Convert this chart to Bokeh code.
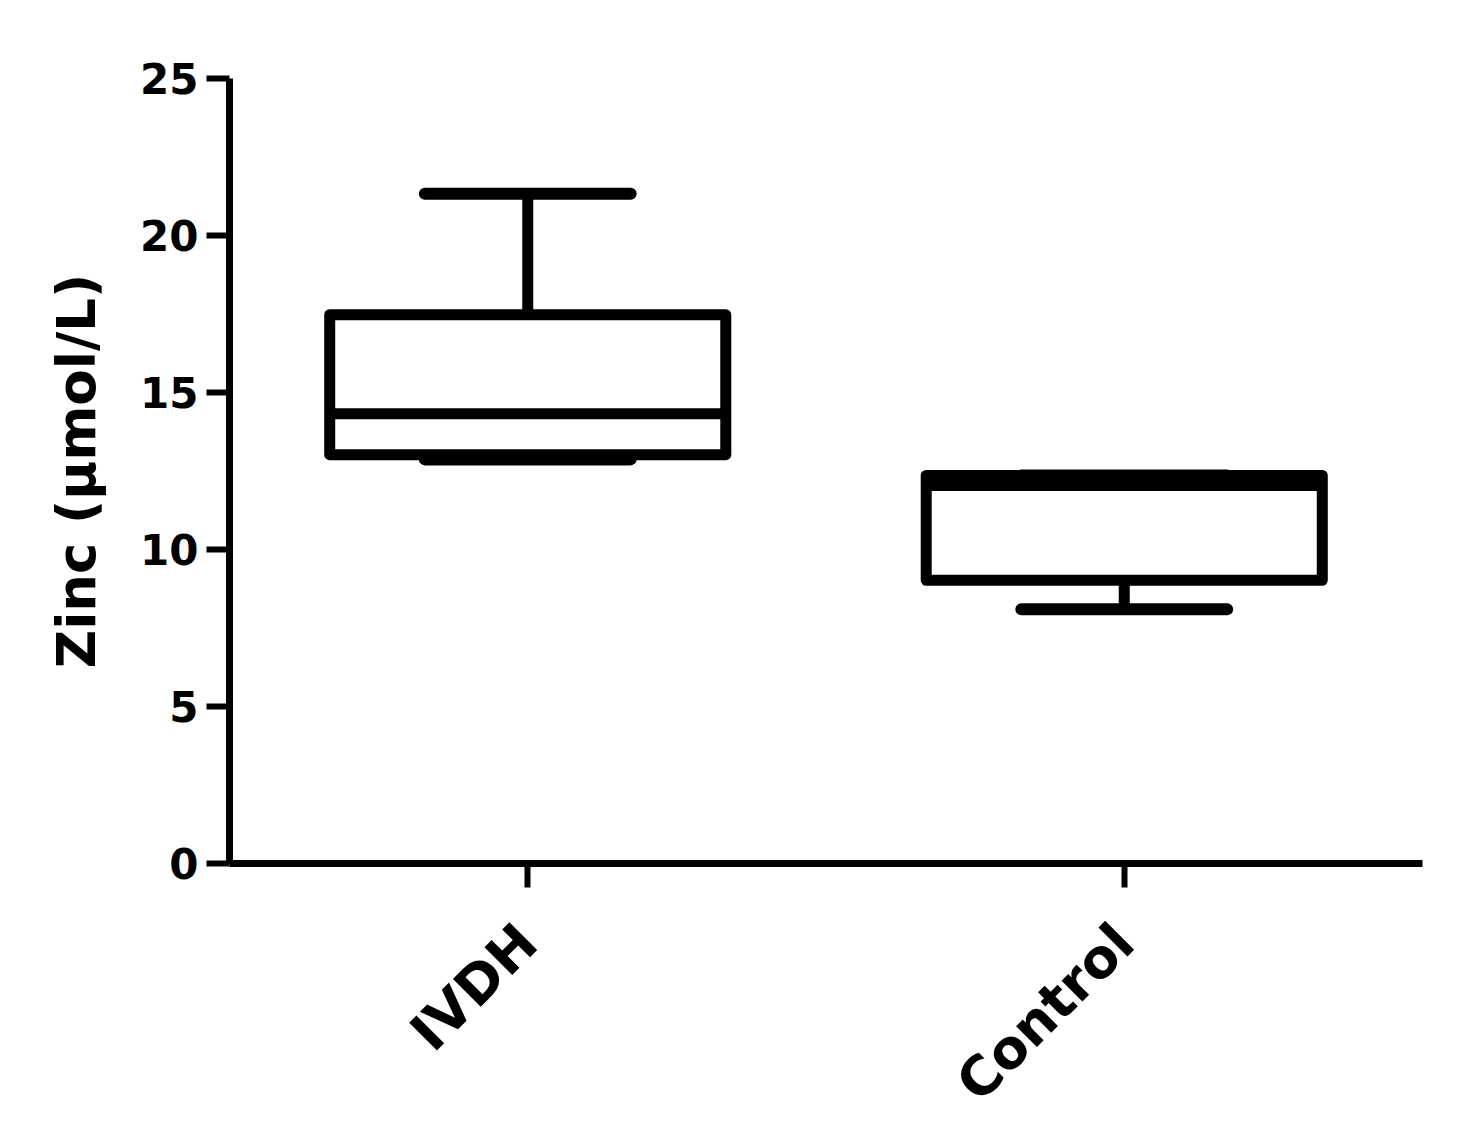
from math import pi
from bokeh.plotting import figure
from bokeh.models import FactorRange, Range1d, FixedTicker, ColumnDataSource
from bokeh.transform import dodge
from bokeh.embed import file_html
from bokeh.resources import INLINE

categories = ["IVDH", "Control"]
whisker_low = [12.87, 8.10]
q1 = [13.02, 9.02]
median = [14.32, 12.04]
q3 = [17.48, 12.36]
whisker_high = [21.33, 12.36]
y_ticks = [0, 5, 10, 15, 20, 25]

BOX_W = 0.664
CAP_W = 0.345
LW = 11
FONT = "DejaVu Sans"

src = ColumnDataSource(dict(cat=categories, lo=whisker_low, q1=q1, med=median,
                            q3=q3, hi=whisker_high))

p = figure(x_range=FactorRange(*categories, range_padding=0), y_range=Range1d(0, 25),
           width=1457, height=1138, output_backend="svg", toolbar_location=None,
           min_border_left=229, min_border_right=35, min_border_top=78, min_border_bottom=274)
p.outline_line_color = None
p.xgrid.visible = False
p.ygrid.visible = False
p.background_fill_color = "white"
p.border_fill_color = "white"

# whiskers (vertical stems)
p.segment(x0="cat", y0="q3", x1="cat", y1="hi", source=src, line_color="black", line_width=LW)
p.segment(x0="cat", y0="lo", x1="cat", y1="q1", source=src, line_color="black", line_width=LW)
# caps
p.segment(x0=dodge("cat", -CAP_W / 2, range=p.x_range), y0="hi",
          x1=dodge("cat", CAP_W / 2, range=p.x_range), y1="hi",
          source=src, line_color="black", line_width=LW + 1, line_cap="round")
p.segment(x0=dodge("cat", -CAP_W / 2, range=p.x_range), y0="lo",
          x1=dodge("cat", CAP_W / 2, range=p.x_range), y1="lo",
          source=src, line_color="black", line_width=LW + 1, line_cap="round")
# boxes
p.vbar(x="cat", width=BOX_W, bottom="q1", top="q3", source=src, fill_color="white",
       line_color="black", line_width=LW, line_join="round")
# medians
p.segment(x0=dodge("cat", -BOX_W / 2, range=p.x_range), y0="med",
          x1=dodge("cat", BOX_W / 2, range=p.x_range), y1="med",
          source=src, line_color="black", line_width=LW)

# axes styling
for ax in (p.xaxis[0], p.yaxis[0]):
    ax.axis_line_width = 7
    ax.axis_line_color = "black"
    ax.major_tick_line_width = 6
    ax.major_tick_line_color = "black"
    ax.major_tick_in = 0
    ax.minor_tick_line_color = None
    ax.major_label_text_font = FONT
    ax.major_label_text_font_style = "bold"
    ax.major_label_text_color = "black"

p.yaxis.ticker = FixedTicker(ticks=y_ticks)
p.yaxis.major_tick_out = 23
p.yaxis.major_label_standoff = 8
p.yaxis.major_label_text_font_size = "42px"
p.yaxis.axis_label = "Zinc (µmol/L)"
p.yaxis.axis_label_text_font = FONT
p.yaxis.axis_label_text_font_style = "bold"
p.yaxis.axis_label_text_font_size = "53px"
p.yaxis.axis_label_text_color = "black"
p.yaxis.axis_label_standoff = 30

p.xaxis.major_tick_out = 24
p.xaxis.major_label_orientation = pi / 4
p.xaxis.major_label_text_font_size = "54px"
p.xaxis.major_label_standoff = 46

open("out.html", "w").write(file_html(p, INLINE))
